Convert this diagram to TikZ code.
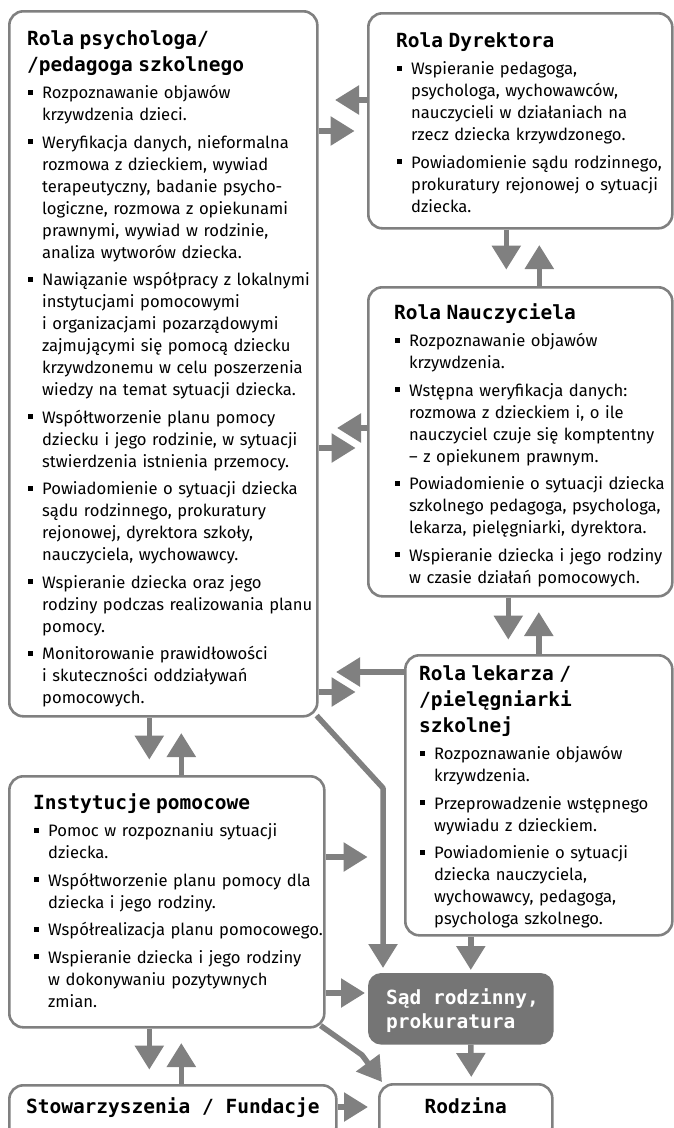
\documentclass[tikz,border=0pt]{standalone}
\usepackage{fontspec}
\setmainfont{Fira Sans}
\newfontfamily\mononagl{DejaVu Sans Mono}
\usetikzlibrary{arrows.meta}

\definecolor{szary}{gray}{0.5}
\definecolor{szarysad}{gray}{0.46}

\newcommand\kwadrat{\raisebox{4pt}{\rule{5pt}{5pt}}}
\newcommand\pkt[1]{\par\hangindent=15pt\hangafter=1\noindent\makebox[15pt][l]{\hspace{1pt}\kwadrat}{\let\\\newline#1}\par}
\newcommand\nagl[1]{\noindent{\mononagl\bfseries\fontsize{19.5}{26}\selectfont\rule{0pt}{15pt}#1\par}}

\tikzset{
  ramka/.style={draw=szary, line width=2.6pt, rounded corners=14pt, inner sep=0pt, anchor=north west},
  strz/.style={draw=szary, line width=5.5pt, -{Triangle[length=24pt,width=28pt]}},
  tekst/.style={anchor=north west, inner sep=0pt, text width=#1, align=left,
    font=\fontsize{16.6}{22}\selectfont\setlength{\parskip}{5.5pt}},
  napis/.style={inner sep=0pt, font=\mononagl\bfseries\fontsize{19.5}{24}\selectfont}
}

\begin{document}
\begin{tikzpicture}[x=1pt,y=-1pt]
  \useasboundingbox (0,0) rectangle (674,1128);

  %%%%% RAMKI %%%%%
  \node[ramka, minimum width=308pt, minimum height=705pt] (psy) at (8,10) {};
  \node[ramka, minimum width=304pt, minimum height=215pt] (dyr) at (367,12) {};
  \node[ramka, minimum width=304pt, minimum height=309pt] (nau) at (367,286) {};
  \node[ramka, minimum width=267pt, minimum height=280pt] (lek) at (404,654) {};
  \node[ramka, minimum width=315pt, minimum height=251pt] (ins) at (8,775) {};
  \node[ramka, fill=szarysad, draw=szarysad, rounded corners=12pt, minimum width=183pt, minimum height=69pt] (sad) at (368,973) {};
  \node[ramka, minimum width=327pt, minimum height=56pt] (sto) at (8,1084) {};
  \node[ramka, minimum width=173pt, minimum height=57pt] (rod) at (378,1083) {};

  %%%%% TEKSTY %%%%%
  \node[tekst=320pt] (psyT) at (27,30) {%
    \nagl{Rola psychologa/\\/pedagoga szkolnego}
    \pkt{Rozpoznawanie objawów\\krzywdzenia dzieci.}
    \pkt{Weryfikacja danych, nieformalna\\rozmowa z dzieckiem, wywiad\\terapeutyczny, badanie psycho-\\logiczne, rozmowa z opiekunami\\prawnymi, wywiad w rodzinie,\\analiza wytworów dziecka.}
    \pkt{Nawiązanie współpracy z lokalnymi\\instytucjami pomocowymi\\i organizacjami pozarządowymi\\zajmującymi się pomocą dziecku\\krzywdzonemu w celu poszerzenia\\wiedzy na temat sytuacji dziecka.}
    \pkt{Współtworzenie planu pomocy\\dziecku i jego rodzinie, w sytuacji\\stwierdzenia istnienia przemocy.}
    \pkt{Powiadomienie o sytuacji dziecka\\sądu rodzinnego, prokuratury\\rejonowej, dyrektora szkoły,\\nauczyciela, wychowawcy.}
    \pkt{Wspieranie dziecka oraz jego\\rodziny podczas realizowania planu\\pomocy.}
    \pkt{Monitorowanie prawidłowości\\i skuteczności oddziaływań\\pomocowych.}};
  \node[tekst=300pt] (dyrT) at (396,32) {%
    \nagl{Rola Dyrektora}
    \pkt{Wspieranie pedagoga,\\psychologa, wychowawców,\\nauczycieli w działaniach na\\rzecz dziecka krzywdzonego.}
    \pkt{Powiadomienie sądu rodzinnego,\\prokuratury rejonowej o sytuacji\\dziecka.}};
  \node[tekst=300pt] (nauT) at (394,303) {%
    \nagl{Rola Nauczyciela}
    \pkt{Rozpoznawanie objawów\\krzywdzenia.}
    \pkt{Wstępna weryfikacja danych:\\rozmowa z dzieckiem i, o ile\\nauczyciel czuje się komptentny\\– z opiekunem prawnym.}
    \pkt{Powiadomienie o sytuacji dziecka\\szkolnego pedagoga, psychologa,\\lekarza, pielęgniarki, dyrektora.}
    \pkt{Wspieranie dziecka i jego rodziny\\w czasie działań pomocowych.}};
  \node[tekst=270pt] (lekT) at (419,665) {%
    \nagl{Rola lekarza /\\/pielęgniarki\\szkolnej}
    \pkt{Rozpoznawanie objawów\\krzywdzenia.}
    \pkt{Przeprowadzenie wstępnego\\wywiadu z dzieckiem.}
    \pkt{Powiadomienie o sytuacji\\dziecka nauczyciela,\\wychowawcy, pedagoga,\\psychologa szkolnego.}};
  \node[tekst=320pt] (insT) at (33,793) {%
    \nagl{Instytucje pomocowe}
    \pkt{Pomoc w rozpoznaniu sytuacji\\dziecka.}
    \pkt{Współtworzenie planu pomocy dla\\dziecka i jego rodziny.}
    \pkt{Współrealizacja planu pomocowego.}
    \pkt{Wspieranie dziecka i jego rodziny\\w dokonywaniu pozytywnych\\zmian.}};
  \node[napis, text=white, anchor=north west, align=left] (sadT) at (386,988) {\rule{0pt}{15pt}Sąd rodzinny,\\prokuratura};
  \node[napis, anchor=base] (stoT) at ([yshift=-29pt]sto.north) {Stowarzyszenia / Fundacje};
  \node[napis, anchor=base] (rodT) at ([yshift=-30pt]rod.north) {Rodzina};

  %%%%% STRZALKI %%%%%
  \draw[strz] (dyr.west |- 0,100) -- ++(-32,0);
  \draw[strz] (psy.east |- 0,131) -- ++(36,0);
  \draw[strz] ([xshift=-14pt]dyr.south) -- ++(0,40);
  \draw[strz] ([xshift=19pt]nau.north) -- ++(0,-41);

  \draw[strz] (nau.west |- 0,428) -- ++(-30,0);
  \draw[strz] (psy.east |- 0,448) -- ++(37,0);
  \draw[strz] ([xshift=-12pt]nau.south) -- ++(0,42);
  \draw[strz] (lek.north) -- ++(0,-42);

  \draw[strz] (lek.west |- 0,672) -- ++(-68,0);
  \draw[strz] (psy.east |- 0,692) -- ++(37,0);
  \draw[strz, line join=round] ([shift={(-2,-2)}]psy.south east) -- ([shift={(15,-185)}]sad.north west) -- ([shift={(15,-5)}]sad.north west);

  \draw[strz] ([xshift=-14pt]psy.south) -- ++(0,42);
  \draw[strz] ([xshift=14.5pt]ins.north) -- ++(0,-42);

  \draw[strz] (ins.east |- 0,857) -- ++(42,0);
  \draw[strz] (ins.east |- 0,993) -- ([xshift=-3pt]sad.west |- 0,993);
  \draw[strz, line join=round] ([shift={(-5,-3)}]ins.south east) -- ([shift={(-16,-28)}]rod.north west) -- ([shift={(4,-1)}]rod.north west);

  \draw[strz] ([xshift=10pt]sad.north |- lek.south) -- ([shift={(10,-3)}]sad.north);
  \draw[strz] ([xshift=10pt]sad.south) -- ([shift={(5.5,-6)}]rod.north);

  \draw[strz] ([xshift=-17.5pt]ins.south) -- ++(0,41);
  \draw[strz] ([xshift=8.5pt]sto.north) -- ++(0,-41);
  \draw[strz] (sto.east |- 0,1107) -- ([xshift=-10pt]rod.west |- 0,1107);
\end{tikzpicture}
\end{document}
